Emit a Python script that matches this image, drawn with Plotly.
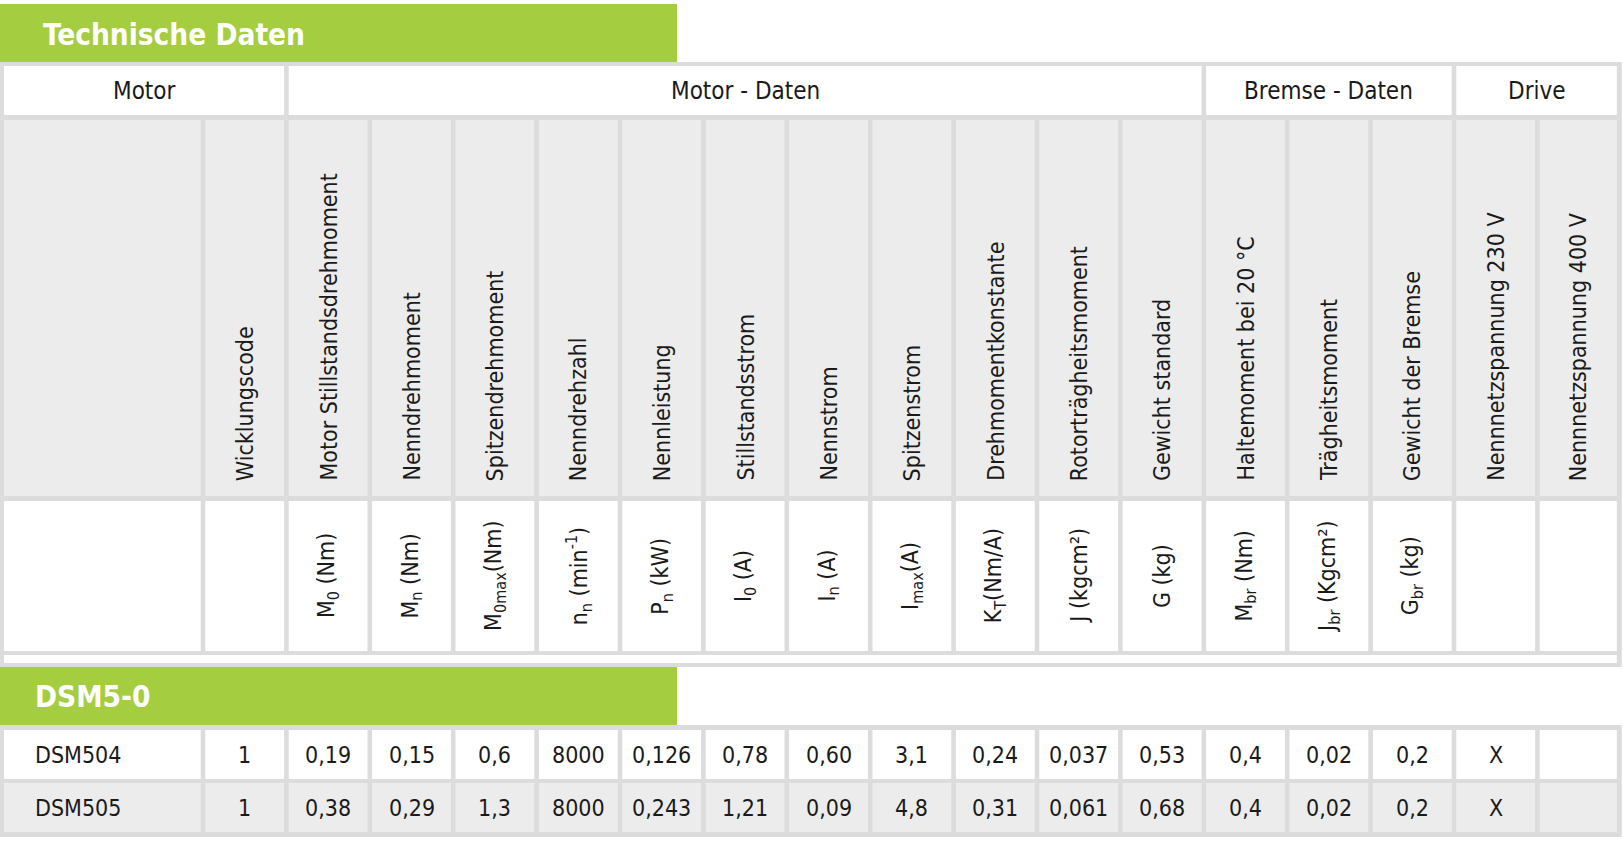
import plotly.graph_objects as go

# ---- Daten ----
titel = "Technische Daten"
serie = "DSM5-0"

gruppen = ["Motor", "Motor - Daten", "Bremse - Daten", "Drive"]
gruppen_spalten = [2, 11, 3, 2]

kopf = ["", "Wicklungscode", "Motor Stillstandsdrehmoment", "Nenndrehmoment",
        "Spitzendrehmoment", "Nenndrehzahl", "Nennleistung", "Stillstandsstrom",
        "Nennstrom", "Spitzenstrom", "Drehmomentkonstante", "Rotorträgheitsmoment",
        "Gewicht standard", "Haltemoment bei 20 °C", "Trägheitsmoment",
        "Gewicht der Bremse", "Nennnetzspannung 230 V", "Nennnetzspannung 400 V"]

einheiten = ["", "", "M<sub>0</sub> (Nm)", "M<sub>n</sub> (Nm)", "M<sub>0max</sub>(Nm)",
             "n<sub>n</sub> (min<sup>-1</sup>)", "P<sub>n</sub> (kW)", "I<sub>0</sub> (A)",
             "I<sub>n</sub> (A)", "I<sub>max</sub>(A)", "K<sub>T</sub>(Nm/A)", "J (kgcm²)",
             "G (kg)", "M<sub>br</sub> (Nm)", "J<sub>br</sub> (Kgcm²)", "G<sub>br</sub> (kg)",
             "", ""]

dsm504 = ["DSM504", "1", "0,19", "0,15", "0,6", "8000", "0,126", "0,78", "0,60",
          "3,1", "0,24", "0,037", "0,53", "0,4", "0,02", "0,2", "X", ""]
dsm505 = ["DSM505", "1", "0,38", "0,29", "1,3", "8000", "0,243", "1,21", "0,09",
          "4,8", "0,31", "0,061", "0,68", "0,4", "0,02", "0,2", "X", ""]
zeilen = [dsm504, dsm505]

# ---- Layout ----
W, H = 1623, 842
GRUEN = "#a4cd3f"
RAND = "#dcdcdc"
HELL = "#ececec"
SCHRIFT = "DejaVu Sans Condensed, DejaVu Sans, sans-serif"
TXT = "#1a1a1a"

ERSTE_BREITE = 203
SPALTE = 83.4
RAND_AUSSEN = 4
LUECKE = 4.6
kanten = [0] + [ERSTE_BREITE + SPALTE * k for k in range(len(kopf))]
n = len(kopf)


def zelle_x(i, j=None):
    j = i if j is None else j
    links = kanten[i] + (RAND_AUSSEN if i == 0 else LUECKE / 2)
    rechts = kanten[j + 1] - (RAND_AUSSEN if j == n - 1 else LUECKE / 2)
    return links, rechts


shapes = []
annots = []


def rect(x0, x1, y0, y1, farbe):
    shapes.append(dict(type="rect", xref="x", yref="y", x0=x0, x1=x1, y0=y0, y1=y1,
                       fillcolor=farbe, line=dict(width=0), layer="below"))


def text(x, y, t, size=23, xa="center", ya="middle", winkel=0, farbe=TXT, bold=False):
    annots.append(dict(x=x, y=y, xref="x", yref="y", text=f"<b>{t}</b>" if bold else t,
                       showarrow=False, xanchor=xa, yanchor=ya, textangle=winkel,
                       font=dict(family=SCHRIFT, size=size, color=farbe)))


# Titelbalken
rect(0, 677, 4, 62, GRUEN)
text(41, 35, titel, size=29.5, xa="left", farbe="white", bold=True)

# Kopf-Tabelle
rect(0, kanten[-1] + 1, 62, 667, RAND)
r1, r2, r3, streifen = (66, 115), (120, 496), (501, 651), (655, 663)

start = 0
for name, anz in zip(gruppen, gruppen_spalten):
    x0, x1 = zelle_x(start, start + anz - 1)
    rect(x0, x1, r1[0], r1[1], "white")
    text((x0 + x1) / 2, 91, name, size=24)
    start += anz

for i in range(n):
    x0, x1 = zelle_x(i)
    rect(x0, x1, r2[0], r2[1], HELL)
    rect(x0, x1, r3[0], r3[1], "white")
    xm = (x0 + x1) / 2
    if kopf[i]:
        text(xm, 483, kopf[i], size=23, ya="bottom", winkel=-90)
    if einheiten[i]:
        text(xm, 576, einheiten[i], size=23, winkel=-90)

x0, _ = zelle_x(0)
_, x1 = zelle_x(n - 1)
rect(x0, x1, streifen[0], streifen[1], "white")

# Serienbalken
rect(0, 677, 667, 725, GRUEN)
text(33, 697, serie, size=29.5, xa="left", farbe="white", bold=True)

# Daten-Tabelle
rect(0, kanten[-1] + 1, 725, 837, RAND)
daten_y = [(730, 779), (783, 832)]
for k, (z, (y0, y1)) in enumerate(zip(zeilen, daten_y)):
    farbe = "white" if k == 0 else HELL
    for i in range(n):
        x0, x1 = zelle_x(i)
        rect(x0, x1, y0, y1, farbe)
        ym = (y0 + y1) / 2
        if i == 0:
            text(33, ym, z[i], size=23, xa="left")
        elif z[i]:
            text((x0 + x1) / 2, ym, z[i], size=23)

fig = go.Figure()
fig.add_trace(go.Scatter(x=[0, W], y=[0, H], mode="markers", marker=dict(opacity=0),
                         hoverinfo="skip", showlegend=False))
fig.update_layout(width=W, height=H, margin=dict(l=0, r=0, t=0, b=0),
                  paper_bgcolor="white", plot_bgcolor="white",
                  shapes=shapes, annotations=annots, showlegend=False)
fig.update_xaxes(range=[0, W], visible=False, fixedrange=True)
fig.update_yaxes(range=[H, 0], visible=False, fixedrange=True)
# Seitenrand des Browsers entfernen, damit die Tabelle bei 0/0 beginnt
fig.write_html("out.html", config={"displayModeBar": False},
               post_script="document.body.style.margin='0';document.body.style.overflow='hidden';")
